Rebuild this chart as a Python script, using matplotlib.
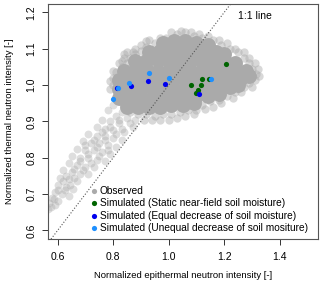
import numpy as np
import matplotlib
matplotlib.use("Agg")
import matplotlib.pyplot as plt

plt.rcParams['font.family'] = ['Liberation Sans', 'DejaVu Sans']

# observed cloud (dense middle, edges, lower tail)
obs_core = [
    (0.98, 1.115), (1.02, 1.12), (1.06, 1.12), (1.10, 1.115), (1.14, 1.11),
    (0.93, 1.09), (0.97, 1.095), (1.01, 1.09), (1.05, 1.095), (1.09, 1.09), (1.13, 1.095), (1.17, 1.09), (1.20, 1.085),
    (0.88, 1.065), (0.92, 1.065), (0.96, 1.07), (1.00, 1.065), (1.04, 1.065), (1.08, 1.07), (1.12, 1.065),
    (1.16, 1.065), (1.20, 1.07), (1.24, 1.06),
    (0.84, 1.04), (0.88, 1.04), (0.92, 1.045), (0.96, 1.04), (1.00, 1.04), (1.04, 1.045), (1.08, 1.04),
    (1.12, 1.04), (1.16, 1.045), (1.20, 1.04), (1.24, 1.04), (1.28, 1.04),
    (0.82, 1.015), (0.86, 1.015), (0.90, 1.02), (0.94, 1.015), (0.98, 1.015), (1.02, 1.02), (1.06, 1.015),
    (1.10, 1.015), (1.14, 1.02), (1.18, 1.015), (1.22, 1.015), (1.26, 1.02), (1.29, 1.025),
    (0.82, 0.99), (0.86, 0.99), (0.90, 0.99), (0.94, 0.995), (0.98, 0.99), (1.02, 0.99), (1.06, 0.99),
    (1.10, 0.995), (1.14, 0.99), (1.18, 0.99), (1.22, 0.995), (1.25, 1.0),
    (0.82, 0.965), (0.86, 0.965), (0.90, 0.965), (0.94, 0.965), (0.98, 0.97), (1.02, 0.965), (1.06, 0.965),
    (1.10, 0.97), (1.14, 0.97), (1.18, 0.975),
    (0.85, 0.94), (0.89, 0.94), (0.93, 0.94), (0.97, 0.94), (1.01, 0.945), (1.05, 0.945), (1.09, 0.95),
]
obs_edge = [
    (0.95, 1.115), (0.99, 1.13), (1.03, 1.14), (1.06, 1.145), (1.09, 1.135), (1.12, 1.13), (1.16, 1.125),
    (1.19, 1.11), (1.22, 1.10), (1.25, 1.09), (1.27, 1.075), (1.29, 1.06), (1.30, 1.045), (1.315, 1.03),
    (1.31, 1.015), (1.29, 1.005), (1.27, 0.995), (1.24, 0.98), (1.21, 0.97), (1.18, 0.96), (1.15, 0.955),
    (1.12, 0.945), (1.10, 0.93), (1.07, 0.93), (1.04, 0.925), (1.01, 0.92), (0.98, 0.92), (0.95, 0.915),
    (0.92, 0.92), (0.89, 0.92), (0.86, 0.925),
    (0.80, 1.00), (0.80, 1.02), (0.81, 1.035), (0.83, 1.05), (0.85, 1.06), (0.86, 1.075), (0.88, 1.085),
    (0.90, 1.095), (0.92, 1.105), (0.87, 1.09), (0.83, 1.065),
    (0.93, 1.125), (0.97, 1.13), (1.01, 1.145), (1.045, 1.15), (1.08, 1.145), (1.11, 1.14), (1.14, 1.135),
    (1.18, 1.125), (1.21, 1.115), (1.24, 1.10), (1.27, 1.09), (1.29, 1.075), (1.31, 1.06), (1.32, 1.045),
    (1.325, 1.025), (1.30, 0.995), (1.26, 0.98), (1.23, 0.965), (1.19, 0.95), (1.16, 0.94), (1.13, 0.935),
    (1.09, 0.92), (1.06, 0.915), (1.03, 0.91), (1.00, 0.905), (0.97, 0.905), (0.94, 0.905), (0.91, 0.905),
    (0.79, 0.99), (0.79, 1.01), (0.80, 1.04), (0.82, 1.06), (0.84, 1.075), (0.85, 1.09), (0.88, 1.10),
    (0.90, 1.11), (0.92, 1.12), (0.84, 1.085),
]
obs_tail = [
    (0.80, 0.945), (0.83, 0.925), (0.78, 0.93), (0.81, 0.915), (0.85, 0.91), (0.88, 0.905),
    (0.76, 0.905), (0.79, 0.90), (0.82, 0.895), (0.86, 0.895),
    (0.74, 0.885), (0.77, 0.88), (0.80, 0.875), (0.83, 0.88),
    (0.71, 0.865), (0.74, 0.86), (0.77, 0.86), (0.80, 0.855), (0.83, 0.85),
    (0.69, 0.845), (0.72, 0.84), (0.75, 0.84), (0.78, 0.835), (0.81, 0.83),
    (0.67, 0.825), (0.70, 0.82), (0.73, 0.82), (0.76, 0.815), (0.79, 0.81),
    (0.65, 0.805), (0.68, 0.80), (0.71, 0.80), (0.74, 0.795), (0.77, 0.79),
    (0.64, 0.785), (0.67, 0.78), (0.70, 0.775), (0.73, 0.775),
    (0.62, 0.765), (0.65, 0.76), (0.68, 0.755), (0.71, 0.755),
    (0.61, 0.745), (0.64, 0.74), (0.67, 0.735),
    (0.60, 0.725), (0.63, 0.72), (0.655, 0.715),
    (0.59, 0.705), (0.615, 0.70), (0.64, 0.695),
    (0.585, 0.685), (0.60, 0.68), (0.575, 0.665), (0.59, 0.67),
    (0.82, 0.905), (0.79, 0.885), (0.76, 0.87), (0.73, 0.85), (0.70, 0.835), (0.77, 0.85), (0.74, 0.83),
    (0.71, 0.81), (0.68, 0.79), (0.75, 0.805), (0.72, 0.785), (0.66, 0.77), (0.69, 0.765), (0.63, 0.75),
    (0.66, 0.745), (0.62, 0.735), (0.645, 0.725), (0.60, 0.71), (0.625, 0.71), (0.58, 0.69), (0.57, 0.675),
    (0.565, 0.66), (0.84, 0.87), (0.87, 0.885), (0.81, 0.865), (0.78, 0.82),
]

# simulated points
static_x = [1.206, 1.145, 1.120, 1.081, 1.116, 1.107, 1.097]
static_y = [1.057, 1.017, 1.017, 0.999, 1.000, 0.987, 0.977]
equal_x = [0.924, 0.987, 0.864, 0.815, 1.108]
equal_y = [1.010, 1.003, 0.997, 0.993, 0.976]
unequal_x = [0.930, 1.001, 0.858, 0.818, 0.800, 1.151]
unequal_y = [1.034, 1.020, 1.006, 0.992, 0.962, 1.016]

labels = ["Observed",
          "Simulated (Static near-field soil moisture)",
          "Simulated (Equal decrease of soil moisture)",
          "Simulated (Unequal decrease of soil mositure)"]
x_ticks = [0.6, 0.8, 1.0, 1.2, 1.4]
y_ticks = [0.6, 0.7, 0.8, 0.9, 1.0, 1.1, 1.2]

fig = plt.figure(figsize=(3.2, 2.87), dpi=100)
ax = fig.add_axes([0.149, 0.167, 0.844, 0.819])

grey = '#aaaaaa'
cx, cy = np.array(obs_core).T
ex, ey = np.array(obs_edge).T
tx, ty = np.array(obs_tail).T
ax.scatter(tx, ty, s=32, color=grey, alpha=0.38, lw=0)
ax.scatter(cx, cy, s=115, color=grey, alpha=1, lw=0)
ax.scatter(ex, ey, s=36, color=grey, alpha=0.45, lw=0)

# 1:1 line
ax.axline((0.6, 0.6), slope=1, color='#555555', ls=':', lw=0.8)
ax.text(1.311, 1.19, "1:1 line", fontsize=7.5, ha='center', va='center')

ax.scatter(static_x, static_y, s=14, color='#006400', lw=0)
ax.scatter(equal_x, equal_y, s=14, color='#0000ee', lw=0)
ax.scatter(unequal_x, unequal_y, s=14, color='#1e90ff', lw=0)

ax.set_xlim(0.564, 1.537)
ax.set_ylim(0.576, 1.223)
ax.set_xticks(x_ticks)
ax.set_xticklabels([f"{v:.1f}" for v in x_ticks])
ax.set_yticks(y_ticks)
ax.set_yticklabels([f"{v:.1f}" for v in y_ticks], rotation=90, va='center')
ax.tick_params(labelsize=7.5, length=4, width=0.7, color='#333333')
ax.tick_params(axis='x', pad=5)
ax.tick_params(axis='y', pad=4)
for s in ax.spines.values():
    s.set_color('#555555')
    s.set_linewidth(0.8)

ax.set_xlabel("Normalized epithermal neutron intensity [-]", fontsize=6.8, labelpad=7)
ax.set_ylabel("Normalized thermal neutron intensity [-]", fontsize=6.8, labelpad=9)

# legend
hs = []
for c in [grey, '#006400', '#0000ee', '#1e90ff']:
    hs.append(ax.scatter([], [], s=14, color=c, lw=0))
ax.legend(hs, labels, loc='lower left', bbox_to_anchor=(0.126, -0.005), frameon=False,
          fontsize=7.3, handletextpad=0.1, handlelength=1.0, labelspacing=0.25,
          borderpad=0.2, scatterpoints=1)

fig.savefig("out.png", dpi=100)
